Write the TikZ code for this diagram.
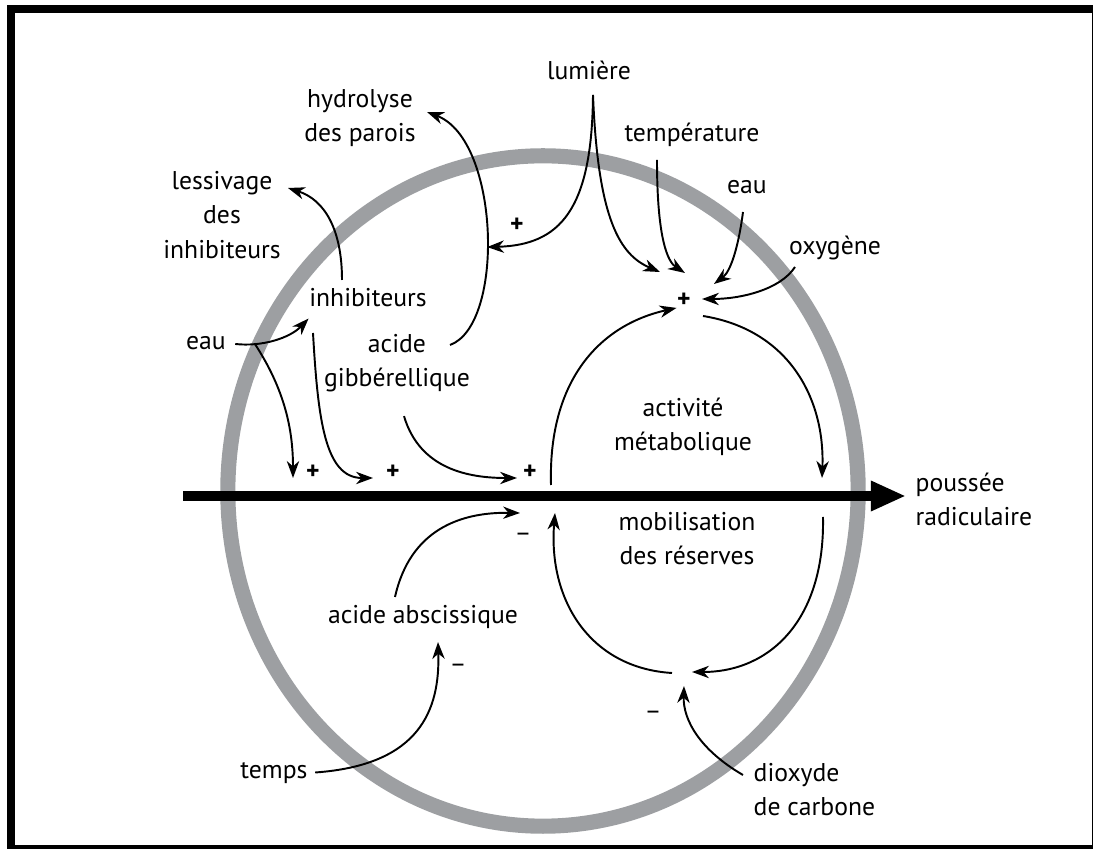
\documentclass[tikz,border=0pt]{standalone}
\usepackage{fontspec}
\setmainfont{PT Sans}
\usetikzlibrary{arrows.meta}
\definecolor{anneau}{RGB}{157,159,162}

\begin{document}
\begin{tikzpicture}[x=0.01cm, y=-0.01cm,
    txt/.style={inner sep=0pt, align=center, font=\fontsize{7.3}{9.7}\selectfont},
    signe/.style={inner sep=0pt, font=\fontsize{7.3}{9.7}\selectfont\bfseries},
    moins/.style={inner sep=0pt, font=\fontsize{7.3}{9.7}\selectfont},
    fleche/.style={-{Stealth[length=4.8pt, width=3.5pt, inset=1.5pt]}, line width=0.55pt},
  ]
  \useasboundingbox (0,0) rectangle (1093,849);

  % cadre et graine
  \draw[line width=2.3pt] (11,9) rectangle (1096,849);
  \draw[anneau, line width=4.3pt] (543,491) ellipse [x radius=3.15cm, y radius=3.35cm];

  % textes
  \node[txt] (lumiere) at (589,70) {lumière};
  \node[txt] (hydrolyse) at (360,118) {hydrolyse\\des parois};
  \node[txt] (lessivage) at (222,215) {lessivage\\des\\inhibiteurs};
  \node[txt] (temperature) at (692,135) {température};
  \node[txt] (eauhaut) at (747,187) {eau};
  \node[txt] (oxygene) at (835,248) {oxygène};
  \node[txt] (inhib) at (368,298) {inhibiteurs};
  \node[txt] (eaugauche) at (206,343) {eau};
  \node[txt] (gibb) at (397,363) {acide\\gibbérellique};
  \node[txt] (activite) at (683,427) {activité\\métabolique};
  \node[txt, anchor=west, align=left] (poussee) at (915,499) {poussée\\radiculaire};
  \node[txt] (mobil) at (687,539) {mobilisation\\des réserves};
  \node[txt] (abscis) at (423,617) {acide abscissique};
  \node[txt] (temps) at (274,773) {temps};
  \node[txt, anchor=west, align=left] (dioxyde) at (753,790) {dioxyde\\de carbone};

  % signes
  \node[signe] (pA) at (313,472) {+};
  \node[signe] (pB) at (393,472) {+};
  \node[signe] (pC) at (530,472) {+};
  \node[signe] (pD) at (517,225) {+};
  \node[signe] (pE) at (684,300) {+};
  \node[moins] (mA) at (523,537) {--};
  \node[moins] (mB) at (458,668) {--};
  \node[moins] (mC) at (653,715) {--};

  % points de depart et d'arrivee
  \coordinate (lumdep) at (593,95);
  \coordinate (tempdep) at (657,160);
  \coordinate (eauhdep) at (743,212);
  \coordinate (oxydep) at (795,267);
  \coordinate (eEa) at (660,272);
  \coordinate (eEb) at (685,273);
  \coordinate (eEc) at (714,284);
  \coordinate (eEd) at (702,299);
  \coordinate (gibbdep) at (450,345);
  \coordinate (hydrofin) at (427,112);
  \coordinate (inhibhaut) at (342,280);
  \coordinate (lessfin) at (288,188);
  \coordinate (inhibbas) at (313,333);
  \coordinate (aFin) at (293,478);
  \coordinate (bFin) at (373,478);
  \coordinate (cFin) at (517,478);
  \coordinate (arc1) at (551,485);
  \coordinate (arc2) at (703,316);
  \coordinate (arc3) at (822,478);
  \coordinate (arc4) at (823,517);
  \coordinate (arc5) at (692,672);
  \coordinate (arc6) at (672,673);
  \coordinate (arc7) at (555,513);
  \coordinate (abscdep) at (395,597);
  \coordinate (mFin) at (520,513);
  \coordinate (abscfin) at (438,642);
  \coordinate (co2dep) at (743,775);
  \coordinate (co2fin) at (684,686);
  \coordinate (debut) at (183,496);
  \coordinate (pointe) at (906,496);

  % axe de la poussee
  \draw[line width=2.9pt, -{Triangle[length=10pt, width=8pt]}] (debut) -- (pointe);

  % acide gibberellique et lumiere
  \draw[fleche] (gibbdep) .. controls (505,325) and (500,140) .. coordinate[pos=0.45] (gA) (hydrofin);
  \draw[fleche] (lumdep) .. controls (592,210) and (560,245) .. (gA);
  \draw[fleche] (lumdep) .. controls (598,220) and (620,255) .. (eEa);
  \draw[fleche] (tempdep) .. controls (657,240) and (668,262) .. (eEb);
  \draw[fleche] (eauhdep) .. controls (738,250) and (730,272) .. (eEc);
  \draw[fleche] (oxydep) .. controls (780,290) and (740,299) .. (eEd);

  % inhibiteurs et eau
  \draw[fleche] (inhibhaut) .. controls (342,230) and (325,200) .. (lessfin);
  \draw[fleche, shorten <=2.5pt] (eaugauche.east) .. controls (262,347) and (290,338) .. coordinate[pos=0.28] (eaubr) ([yshift=-3pt]inhib.south west);
  \draw[fleche] (eaubr) .. controls (285,390) and (293,430) .. (aFin);
  \draw[fleche] (inhibbas) .. controls (318,420) and (325,478) .. (bFin);
  \draw[fleche, shorten <=7pt] (gibb.south) .. controls (420,470) and (470,478) .. (cFin);

  % boucle activite / mobilisation
  \draw[fleche] (arc1) .. controls (548,380) and (600,325) .. (pE.south west);
  \draw[fleche] (arc2) .. controls (790,330) and (825,400) .. (arc3);
  \draw[fleche] (arc4) .. controls (825,620) and (770,672) .. (arc5);
  \draw[fleche] (arc6) .. controls (590,668) and (548,600) .. (arc7);

  % acide abscissique, temps, dioxyde de carbone
  \draw[fleche] (abscdep) .. controls (410,530) and (460,512) .. (mFin);
  \draw[fleche, shorten <=2pt] (temps.east) .. controls (420,765) and (440,710) .. (abscfin);
  \draw[fleche] (co2dep) .. controls (700,750) and (683,720) .. (co2fin);
\end{tikzpicture}
\end{document}
